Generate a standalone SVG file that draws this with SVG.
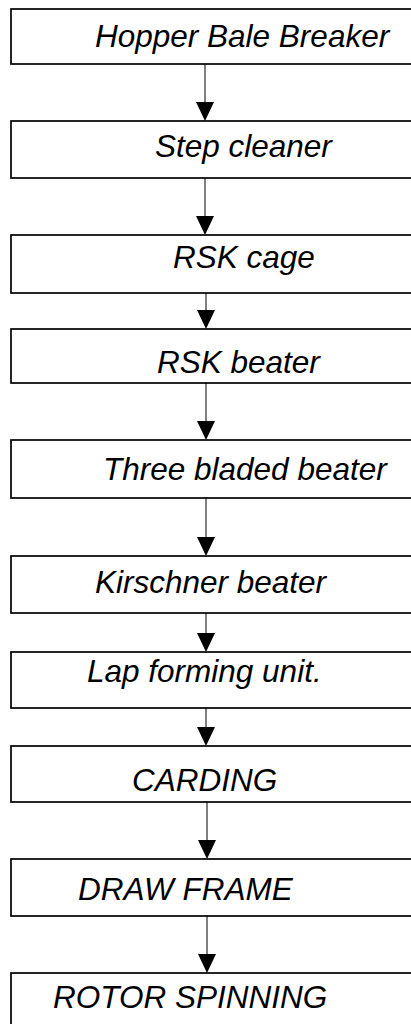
<svg xmlns="http://www.w3.org/2000/svg" width="411" height="1024" viewBox="0 0 411 1024">
  <style>
    .box { fill: #ffffff; stroke: #000000; stroke-width: 1.7; }
    .lbl { font-family: "Liberation Sans", Arial, sans-serif; font-style: italic; font-size: 31.5px; fill: #000000; }
    .wire { stroke: #000000; stroke-width: 1; fill: none; }
    .head { fill: #000000; }
  </style>
  <rect x="0" y="0" width="411" height="1024" fill="#ffffff"/>

  <g id="connectors">
    <line class="wire" x1="205" y1="64" x2="205" y2="104"/>
    <polygon class="head" points="196,102 214,102 205,121"/>
    <line class="wire" x1="205" y1="178" x2="205" y2="218"/>
    <polygon class="head" points="196,216 214,216 205,235"/>
    <line class="wire" x1="206" y1="293" x2="206" y2="312"/>
    <polygon class="head" points="197,310 215,310 206,329"/>
    <line class="wire" x1="206" y1="383" x2="206" y2="423"/>
    <polygon class="head" points="197,421 215,421 206,440"/>
    <line class="wire" x1="206" y1="498" x2="206" y2="539"/>
    <polygon class="head" points="197,537 215,537 206,556"/>
    <line class="wire" x1="206" y1="613" x2="206" y2="635"/>
    <polygon class="head" points="197,633 215,633 206,652"/>
    <line class="wire" x1="206" y1="708" x2="206" y2="729"/>
    <polygon class="head" points="197,727 215,727 206,746"/>
    <line class="wire" x1="207" y1="802" x2="207" y2="842"/>
    <polygon class="head" points="198,840 216,840 207,859"/>
    <line class="wire" x1="207" y1="916" x2="207" y2="956"/>
    <polygon class="head" points="198,954 216,954 207,973"/>
  </g>

  <g id="hopper-bale-breaker">
    <rect class="box" x="11" y="9" width="420" height="55"/>
    <text class="lbl" x="95" y="47">Hopper Bale Breaker</text>
  </g>
  <g id="step-cleaner">
    <rect class="box" x="11" y="121" width="420" height="57"/>
    <text class="lbl" x="155" y="157">Step cleaner</text>
  </g>
  <g id="rsk-cage">
    <rect class="box" x="11" y="235" width="420" height="58"/>
    <text class="lbl" x="173" y="268">RSK cage</text>
  </g>
  <g id="rsk-beater">
    <rect class="box" x="11" y="329" width="420" height="54"/>
    <text class="lbl" x="157" y="373">RSK beater</text>
  </g>
  <g id="three-bladed-beater">
    <rect class="box" x="11" y="440" width="420" height="58"/>
    <text class="lbl" x="103" y="480">Three bladed beater</text>
  </g>
  <g id="kirschner-beater">
    <rect class="box" x="11" y="556" width="420" height="57"/>
    <text class="lbl" x="95" y="593">Kirschner beater</text>
  </g>
  <g id="lap-forming-unit">
    <rect class="box" x="11" y="652" width="420" height="56"/>
    <text class="lbl" x="87" y="682">Lap forming unit.</text>
  </g>
  <g id="carding">
    <rect class="box" x="11" y="746" width="420" height="56"/>
    <text class="lbl" x="132" y="791">CARDING</text>
  </g>
  <g id="draw-frame">
    <rect class="box" x="11" y="859" width="420" height="57"/>
    <text class="lbl" x="78" y="900">DRAW FRAME</text>
  </g>
  <g id="rotor-spinning">
    <rect class="box" x="11" y="973" width="420" height="60"/>
    <text class="lbl" x="53" y="1008">ROTOR SPINNING</text>
  </g>
</svg>
